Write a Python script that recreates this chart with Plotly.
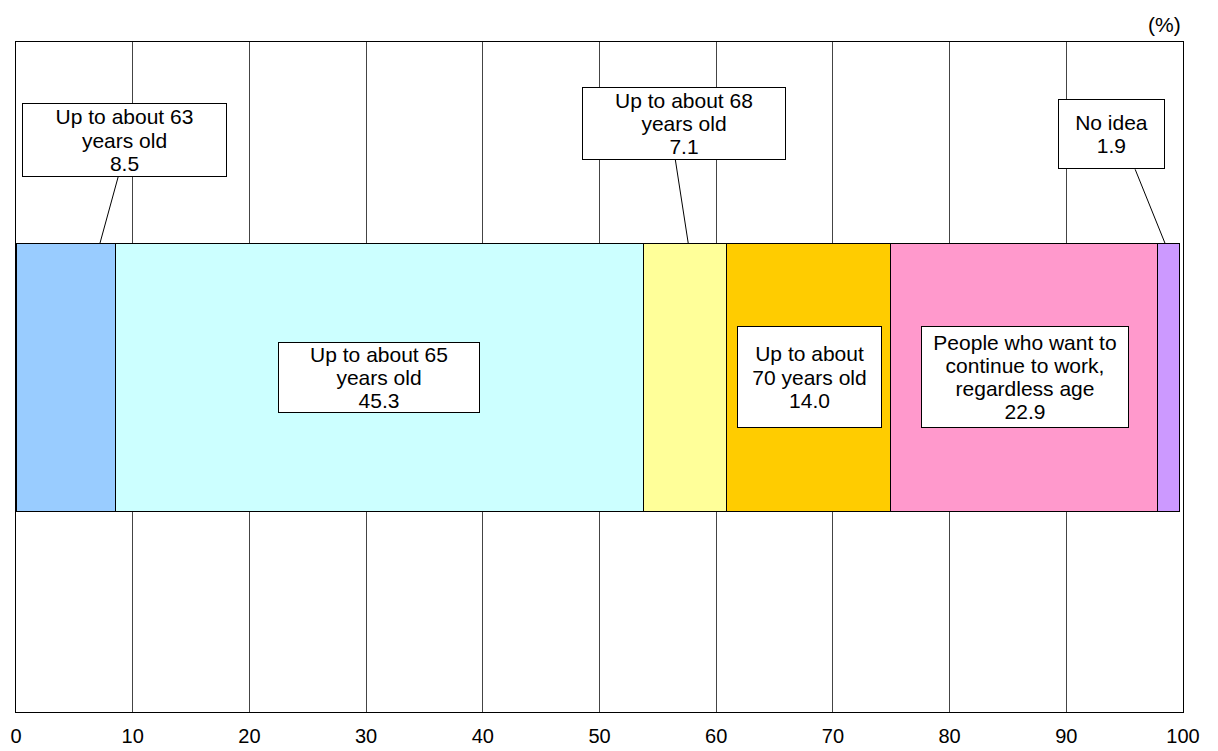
import plotly.graph_objects as go

categories = [
    "Up to about 63 years old",
    "Up to about 65 years old",
    "Up to about 68 years old",
    "Up to about 70 years old",
    "People who want to continue to work, regardless age",
    "No idea",
]
values = [8.5, 45.3, 7.1, 14.0, 22.9, 1.9]
colors = ["#99CCFF", "#CCFFFF", "#FFFF99", "#FFCC00", "#FF99CC", "#CC99FF"]
label_lines = [
    ["Up to about 63", "years old"],
    ["Up to about 65", "years old"],
    ["Up to about 68", "years old"],
    ["Up to about", "70 years old"],
    ["People who want to", "continue to work,", "regardless age"],
    ["No idea"],
]
tick_vals = list(range(0, 101, 10))

FONT = "Liberation Sans, Arial, sans-serif"
TXT = 21
BASE = 17.7

fig = go.Figure()
for cat, val, col in zip(categories, values, colors):
    fig.add_trace(go.Bar(
        x=[val], y=[0], orientation="h", name=cat,
        marker=dict(color=col, line=dict(color="black", width=1)),
        width=0.4, showlegend=False, hoverinfo="x+name",
    ))

# label boxes: (x center, y center, width, height, line start, line end)
box_layout = [
    (9.3, 0.354, 205, 74, (8.75, 0.2985), (7.2, 0.2)),
    (31.1, 0.0, 202, 71, None, None),
    (57.2, 0.378, 204, 73, (56.5, 0.324), (57.6, 0.2)),
    (68.0, 0.0, 145, 102, None, None),
    (86.45, 0.0, 208, 102, None, None),
    (93.9, 0.363, 107, 70, (95.9, 0.310), (98.45, 0.2)),
]

annotations = []
shapes = []
for lines, val, (bx, by, bw, bh, p0, p1) in zip(label_lines, values, box_layout):
    txt = "<br>".join(f"<span style='font-size:{TXT}px'>{s}</span>" for s in lines + [f"{val:.1f}"])
    annotations.append(dict(
        x=bx, y=by, xref="x", yref="y", text=txt, showarrow=False,
        font=dict(family=FONT, size=BASE, color="black"),
        bgcolor="white", bordercolor="black", borderwidth=1,
        width=bw - 4, height=bh - 4, align="center", valign="middle",
    ))
    if p0 is not None:
        shapes.append(dict(type="line", xref="x", yref="y",
                           x0=p0[0], y0=p0[1], x1=p1[0], y1=p1[1],
                           line=dict(color="black", width=1)))

annotations.append(dict(
    x=1, y=1, xref="paper", yref="paper", xanchor="right", yanchor="bottom",
    text="(%)", showarrow=False, yshift=4,
    font=dict(family=FONT, size=TXT, color="black"),
))

fig.update_layout(
    barmode="stack",
    width=1218, height=751,
    margin=dict(l=16, r=35, t=42, b=39),
    paper_bgcolor="white", plot_bgcolor="white",
    font=dict(family=FONT, size=TXT, color="black"),
    annotations=annotations, shapes=shapes,
    xaxis=dict(range=[0, 100], tickvals=tick_vals, ticktext=[str(v) for v in tick_vals],
               showgrid=True, gridcolor="#444444", gridwidth=1,
               showline=True, linecolor="black", linewidth=1, mirror=True,
               ticks="", ticklabelstandoff=6, zeroline=False, automargin=False,
               tickfont=dict(family=FONT, size=20, color="black")),
    yaxis=dict(range=[-0.5, 0.5], showticklabels=False, showgrid=False, zeroline=False,
               automargin=False,
               showline=True, linecolor="black", linewidth=1, mirror=True, ticks=""),
)

fig.write_html("out.html")
